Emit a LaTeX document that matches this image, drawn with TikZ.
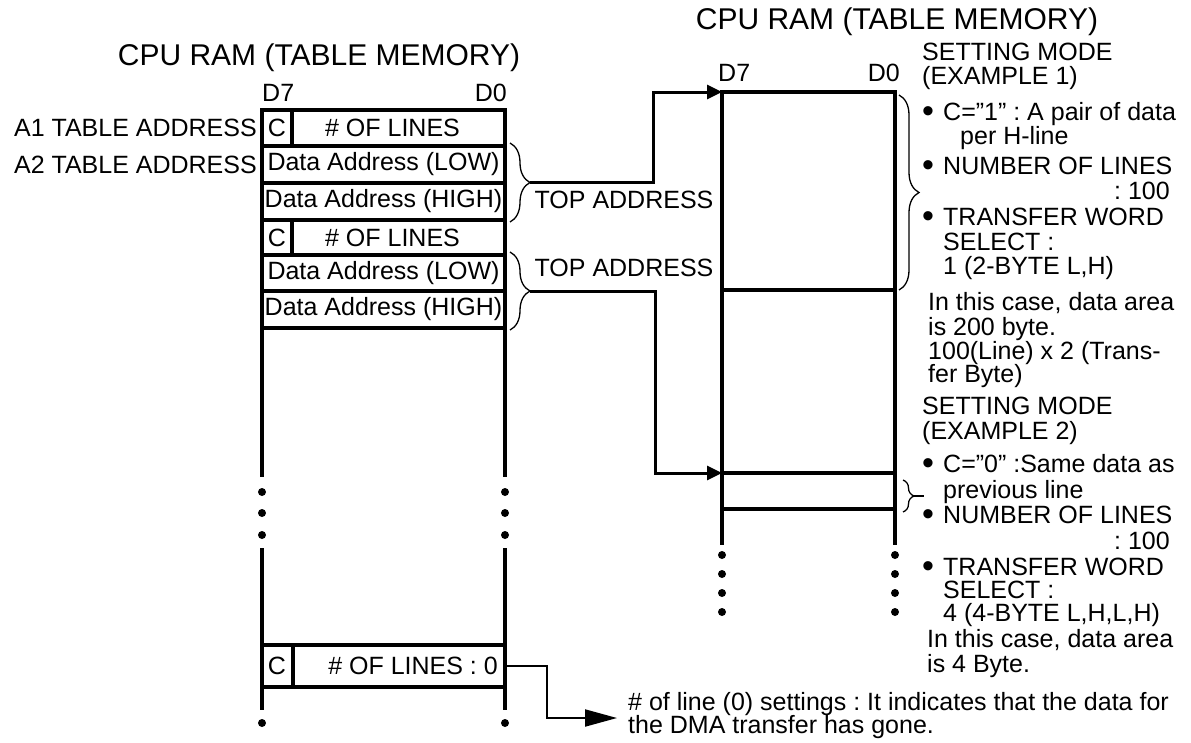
\documentclass[tikz,border=0pt]{standalone}
\usepackage{fontspec}
\setmainfont{Liberation Sans}
\usetikzlibrary{arrows.meta,positioning,calc,decorations.pathreplacing}
\frenchspacing

\newcommand\fs{\fontsize{25}{25}\selectfont}
\newcommand\ft{\fontsize{30}{30}\selectfont}
\newcommand\bul{\makebox[21pt][l]{\fontsize{34}{34}\selectfont\raisebox{-2pt}{•}}}

\tikzset{
  cell/.style={draw, line width=3.2pt, anchor=north west, minimum width=243pt, inner sep=0pt, outer sep=0pt},
  wall/.style={line width=3.2pt},
  lbl/.style={font=\fs, inner sep=0pt},
  note/.style={font=\fs, inner sep=0pt, anchor=mid west},
  blob/.style={circle, fill, inner sep=0pt, minimum size=8pt},
  link/.style={line width=3pt, -{Triangle[length=15pt,width=14pt]}},
  curly/.style={decorate, decoration={brace, amplitude=#1}, line width=1.3pt},
}

\begin{document}
\begin{tikzpicture}[x=1pt, y=-1pt]
\useasboundingbox (0,0) rectangle (1191,742);

% left table memory
\node[lbl, font=\ft] (ttl1) at (319,58) {CPU RAM (TABLE MEMORY)};
\foreach \n/\y/\h in {r1/110/36, r2/146/37, r3/183/37, r4/220/35, r5/255/36, r6/291/37, r7/645/42} {
  \node[cell, minimum height=\h pt] (\n) at (262,\y) {};
}
\foreach \n/\w in {r1/30, r4/30, r7/31} {
  \draw[wall] ([xshift=\w pt]\n.north west) -- ([xshift=\w pt]\n.south west);
  \node[lbl] (c\n) at ([xshift=15pt]\n.west) {C};
}
\node[lbl] (n1) at ([xshift=9pt]r1.center) {\# OF LINES};
\node[lbl] (lo1) at (r2.center) {Data Address (LOW)};
\node[lbl] (hi1) at (r3.center) {Data Address (HIGH)};
\node[lbl] (n2) at ([xshift=9pt]r4.center) {\# OF LINES};
\node[lbl] (lo2) at (r5.center) {Data Address (LOW)};
\node[lbl] (hi2) at (r6.center) {Data Address (HIGH)};
\node[lbl, anchor=east] (n3) at ([xshift=-7pt]r7.east) {\# OF LINES : 0};

\node[lbl, anchor=east] (a1) at ([xshift=-5pt]r1.west) {A1 TABLE ADDRESS};
\node[lbl, anchor=east] (a2) at ([xshift=-5pt]r2.west) {A2 TABLE ADDRESS};
\node[lbl, anchor=south west] (d7a) at ([yshift=8pt]r1.north west) {D7};
\node[lbl, anchor=south east] (d0a) at ([xshift=2pt,yshift=8pt]r1.north east) {D0};

\foreach \x in {262,505} {
  \draw[wall] (\x,328) -- (\x,477);
  \draw[wall] (\x,548) -- (\x,645);
  \draw[wall] (\x,687) -- (\x,710);
  \foreach \y in {492,513,535,723}
    \node[blob] (b\x-\y) at (\x,\y) {};
}

% right table memory
\node[lbl, font=\ft] (ttl2) at (897,22) {CPU RAM (TABLE MEMORY)};
\node[cell, minimum width=173pt, minimum height=198pt] (rc1) at (722,92) {};
\node[cell, minimum width=173pt, minimum height=36pt] (rc2) at (722,473) {};
\draw[wall] (rc1.south west) -- (rc2.north west);
\draw[wall] (rc1.south east) -- (rc2.north east);
\draw[wall] (rc2.south west) -- ++(0,36);
\draw[wall] (rc2.south east) -- ++(0,36);
\foreach \y in {555,574,593,612} {
  \node[blob] (p\y) at (722,\y) {};
  \node[blob] (q\y) at (895,\y) {};
}
\node[lbl, anchor=south west] (d7b) at ([xshift=-4pt,yshift=10pt]rc1.north west) {D7};
\node[lbl, anchor=south east] (d0b) at ([xshift=5pt,yshift=10pt]rc1.north east) {D0};

% braces and top address links
\draw[curly=20pt] (510,143) -- (510,222);
\draw[curly=20pt] (510,252) -- (510,330);
\coordinate (tipA) at (530,182.5);
\coordinate (tipB) at (530,291);
\node[lbl] (top1) at (624,200) {TOP ADDRESS};
\node[lbl] (top2) at (624,268) {TOP ADDRESS};
\draw[link] (tipA) -- ++(123,0) |- (rc1.north west);
\draw[link] (tipB) -- ++(125,0) |- (rc2.north west);

\draw[curly=20pt] (899,95) -- (899,290);
\draw[curly=11pt] (903,480) -- (903,512);
\draw[line width=1.3pt] (914,496) -- (924,496);

% setting modes
\foreach \t/\x/\y [count=\i] in {
  {SETTING MODE}/922/58,
  {(EXAMPLE 1)}/922/82,
  {\bul C=”1” : A pair of data}/922/118,
  {per H-line}/960/142,
  {\bul NUMBER OF LINES}/922/172,
  {\bul TRANSFER WORD}/922/223,
  {SELECT :}/943/248,
  {1 (2-BYTE L,H)}/943/272,
  {In this case, data area}/928/308,
  {is 200 byte.}/928/333,
  {100(Line) x 2 (Trans-}/928/357,
  {fer Byte)}/928/380,
  {SETTING MODE}/922/412,
  {(EXAMPLE 2)}/922/437,
  {\bul C=”0” :Same data as}/922/470,
  {previous line}/943/496,
  {\bul NUMBER OF LINES}/922/521,
  {\bul TRANSFER WORD}/922/573,
  {SELECT :}/943/596,
  {4 (4-BYTE L,H,L,H)}/943/619,
  {In this case, data area}/927/645,
  {is 4 Byte.}/927/670}
  \node[note] (s\i) at (\x,\y) {\t};
\node[note, anchor=mid east] (k1) at (1170,197) {: 100};
\node[note, anchor=mid east] (k2) at (1170,547) {: 100};

% end of table
\node[note] (g1) at (628,708) {\# of line (0) settings : It indicates that the data for};
\node[note] (g2) at (628,731) {the DMA transfer has gone.};
\coordinate (endC) at (617,718);
\draw[line width=2pt, -{Triangle[length=32pt,width=17pt]}] (r7.east) -- ++(42,0) |- (endC);
\end{tikzpicture}
\end{document}
